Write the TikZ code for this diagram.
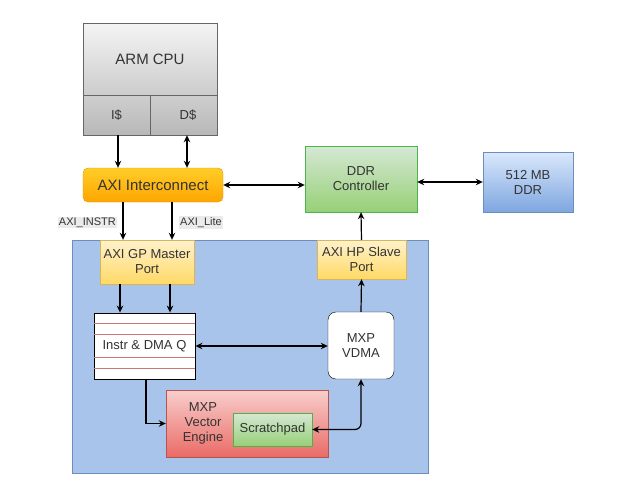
\documentclass[tikz,border=0pt]{standalone}
\usepackage{fontspec}
\setmainfont{Liberation Sans}
\usetikzlibrary{arrows.meta,calc}
\definecolor{txtgray}{HTML}{333333}
\definecolor{zynqblue}{HTML}{A9C4EB}
\definecolor{zynqedge}{HTML}{6C8EBF}
\tikzstyle{txt}=[
        inner sep=0pt,
        align=center,
        text=txtgray,
        font=\fontsize{13}{15}\selectfont
]
\tikzstyle{block}=[txt, draw]
\tikzstyle{cpupart}=[block, draw=black!60, top color=black!4, bottom color=black!20]
\tikzstyle{cachepart}=[block, draw=black!60, top color=black!19, bottom color=black!28]
\tikzstyle{greenbox}=[block, draw=green!40!gray, top color={rgb,255:red,213;green,232;blue,212}, bottom color={rgb,255:red,151;green,208;blue,119}]
\tikzstyle{portbox}=[block, draw={rgb,255:red,214;green,182;blue,86}, top color={rgb,255:red,255;green,242;blue,204}, bottom color={rgb,255:red,255;green,217;blue,102}]
\tikzstyle{conn}=[
        line width=1.2pt,
        -{Stealth[length=7pt,width=6.5pt]}
]
\tikzstyle{biconn}=[
        line width=1.2pt,
        {Stealth[length=7pt,width=6.5pt]}-{Stealth[length=7pt,width=6.5pt]}
]
\tikzstyle{lbl}=[
        fill=black!8,
        inner sep=1pt,
        text=txtgray,
        font=\fontsize{11}{13}\selectfont
]

\begin{document}
\begin{tikzpicture}[x=1pt,y=-1pt]
                    \useasboundingbox (0,0) rectangle (632,488);

                    \node[cpupart, minimum width=134pt, minimum height=72pt, font=\fontsize{15}{17}\selectfont] (cpu) at (150,59) {ARM CPU};
                    \node[cachepart, minimum width=67pt, minimum height=40pt] (icache) at (116.5,115) {I\$};
                    \node[cachepart, minimum width=67pt, minimum height=40pt] (dcache) at (183.5,115) {\hspace{9pt}D\$};

                    \node[block, draw={rgb,255:red,215;green,155;blue,0}, rounded corners=5pt, top color={rgb,255:red,255;green,205;blue,40}, bottom color={rgb,255:red,255;green,165;blue,0}, minimum width=140pt, minimum height=34pt, font=\fontsize{15}{17}\selectfont] (axi) at (153,185) {AXI Interconnect};
                    \node[greenbox, minimum width=112pt, minimum height=66pt] (ddrc) at (361,179) {DDR\\Controller};
                    \node[block, draw=zynqedge, top color={rgb,255:red,218;green,232;blue,252}, bottom color={rgb,255:red,126;green,166;blue,224}, minimum width=90pt, minimum height=60pt] (ddr) at (528,182) {512 MB\\DDR};

                    \node[draw=zynqedge, fill=zynqblue, minimum width=356pt, minimum height=233pt, inner sep=0pt] (zynq) at (250,356.5) {};

                    \node[portbox, minimum width=94pt, minimum height=44pt] (gpport) at (147,262) {AXI GP Master\\Port};
                    \node[portbox, minimum width=89pt, minimum height=39pt] (hpport) at (361.5,259.5) {AXI HP Slave\\Port};

                    \node[block, fill=white, line width=0.9pt, minimum width=101pt, minimum height=66pt] (instrq) at (144.5,346) {};
                    \foreach \y in {323,334,357,368} {
                        \draw[draw={rgb,255:red,200;green,120;blue,120}] ($(instrq.west |- 0,\y)+(0.6pt,0)$) -- ($(instrq.east |- 0,\y)+(-0.6pt,0)$);
                    }
                    \node[txt] (instrtxt) at (instrq.center) {Instr \& DMA Q};

                    \node[block, fill=white, rounded corners=8pt, minimum width=66pt, minimum height=67pt] (vdma) at (361,345.5) {MXP\\VDMA};

                    \node[block, draw={rgb,255:red,184;green,84;blue,80}, top color={rgb,255:red,248;green,206;blue,204}, bottom color={rgb,255:red,234;green,107;blue,102}, minimum width=162pt, minimum height=67pt] (vec) at (247,423.5) {};
                    \node[txt] (vectxt) at (203,423.5) {MXP\\Vector\\Engine};
                    \node[greenbox, minimum width=79pt, minimum height=33pt] (scratch) at (272.5,429.5) {Scratchpad};

                    \draw[conn] ($(icache.south)+(1.5pt,0)$) -- ($(icache.south |- axi.north)+(1.5pt,0)$);
                    \draw[biconn] ($(dcache.south)+(3.5pt,0)$) -- ($(dcache.south |- axi.north)+(3.5pt,0)$);
                    \draw[biconn] (axi.east) -- (axi.east -| ddrc.west);
                    \draw[biconn] (ddr.west -| ddrc.east) -- (ddr.west);

                    \draw[conn] (axi.south -| 123,0) -- (gpport.north -| 123,0);
                    \draw[conn] (axi.south -| 172,0) -- (gpport.north -| 172,0);
                    \node[lbl, anchor=east] (instrlbl) at (117,222.5) {AXI\_INSTR};
                    \node[lbl, anchor=west] (litelbl) at (179,222.5) {AXI\_Lite};

                    \draw[conn] (gpport.south -| 120,0) -- (instrq.north -| 120,0);
                    \draw[conn] (gpport.south -| 170,0) -- (instrq.north -| 170,0);

                    \draw[biconn] (instrq.east) -- (instrq.east -| vdma.west);
                    \draw[conn] (vdma.north) -- (hpport.south);
                    \draw[conn] (hpport.north) -- (ddrc.south);

                    \draw[conn] ($(instrq.south)+(1.5pt,0)$) |- (vec.west);
                    \draw[biconn, rounded corners=6pt] (scratch.east) -| (vdma.south);

                \end{tikzpicture}
\end{document}
